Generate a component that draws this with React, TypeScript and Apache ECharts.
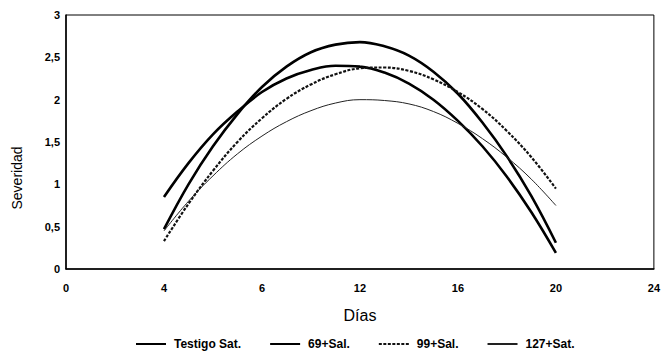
import React, { useEffect, useRef } from "react";
import * as echarts from "echarts";

const days = [4, 5, 6, 7, 8, 9, 10, 11, 12, 13, 14, 15, 16, 17, 18, 19, 20];
const testigoSat = [0.47, 1.0, 1.45, 1.83, 2.15, 2.39, 2.56, 2.65, 2.68, 2.63, 2.52, 2.33, 2.07, 1.73, 1.33, 0.86, 0.31];
const sal69 = [0.85, 1.25, 1.59, 1.86, 2.09, 2.25, 2.35, 2.4, 2.39, 2.32, 2.19, 2.0, 1.75, 1.45, 1.09, 0.67, 0.19];
const sal99 = [0.33, 0.77, 1.16, 1.5, 1.78, 2.01, 2.18, 2.3, 2.37, 2.38, 2.34, 2.24, 2.09, 1.89, 1.63, 1.32, 0.95];
const sat127 = [0.45, 0.8, 1.1, 1.36, 1.57, 1.74, 1.87, 1.96, 2.0, 1.99, 1.95, 1.86, 1.72, 1.54, 1.32, 1.06, 0.75];

const seriesNames = ["Testigo Sat.", "69+Sal.", "99+Sal.", "127+Sat."];
const xTickValues = [0, 4, 8, 12, 16, 20, 24];
const xTickLabels = ["0", "4", "6", "12", "16", "20", "24"];

const FONT = "'Liberation Sans', Arial, sans-serif";

export default function App() {
  const ref = useRef<HTMLDivElement>(null);
  useEffect(() => {
    if (!ref.current) return;
    const chart = echarts.init(ref.current, undefined, { renderer: "svg" });
    const pairs = (vals: number[]) => days.map((d, i) => [d, vals[i]]);
    const styles = [
      { width: 2.6, type: "solid" as any, color: "#000" },
      { width: 2.6, type: "solid" as any, color: "#000" },
      { width: 2.2, type: [3, 1.5] as any, color: "#111" },
      { width: 1, type: "solid" as any, color: "#222" },
    ];
    const allVals = [testigoSat, sal69, sal99, sat127];
    chart.setOption({
      animation: false,
      backgroundColor: "#fff",
      textStyle: { fontFamily: FONT },
      grid: {
        left: 66,
        right: 5,
        top: 15,
        bottom: 82,
        show: true,
        borderColor: "#000",
        borderWidth: 1,
        backgroundColor: "transparent",
      },
      legend: {
        left: 135,
        top: 338,
        padding: 0,
        itemWidth: 30,
        itemHeight: 8,
        itemGap: 28,
        data: seriesNames,
        itemStyle: { opacity: 0 },
        textStyle: {
          fontSize: 12,
          fontWeight: "bold",
          color: "#000",
          fontFamily: FONT,
          lineHeight: 12,
          padding: [0, 0, 0, 3],
        },
      },
      xAxis: {
        type: "value",
        min: 0,
        max: 24,
        interval: 4,
        name: "Días",
        nameLocation: "middle",
        nameGap: 38,
        nameTextStyle: { fontSize: 16, color: "#000", fontFamily: FONT },
        axisLine: { show: true, lineStyle: { color: "#000", width: 1.5 } },
        axisTick: { show: false },
        splitLine: { show: false },
        axisLabel: {
          fontSize: 11,
          fontWeight: "bold",
          color: "#000",
          margin: 13,
          fontFamily: FONT,
          formatter: (v: number) => {
            const idx = xTickValues.indexOf(v);
            return idx >= 0 ? xTickLabels[idx] : "";
          },
        },
      },
      yAxis: {
        type: "value",
        min: 0,
        max: 3,
        interval: 0.5,
        axisLine: { show: true, lineStyle: { color: "#000", width: 1.5 } },
        axisTick: { show: false },
        splitLine: { show: false },
        axisLabel: {
          fontSize: 11,
          fontWeight: "bold",
          color: "#000",
          margin: 6,
          fontFamily: FONT,
          formatter: (v: number) => String(v).replace(".", ","),
        },
      },
      graphic: [
        {
          type: "text",
          x: 10,
          y: 178,
          rotation: Math.PI / 2,
          style: {
            text: "Severidad",
            fontSize: 14,
            fontFamily: FONT,
            fill: "#000",
            textAlign: "center",
            textVerticalAlign: "top",
          },
        },
      ],
      series: seriesNames.map((name, i) => ({
        name,
        type: "line",
        data: pairs(allVals[i]),
        smooth: 0.4,
        symbol: "none",
        lineStyle: styles[i],
        itemStyle: { color: styles[i].color },
      })),
    });
    return () => chart.dispose();
  }, []);
  return (
    <div
      ref={ref}
      style={{ position: "absolute", left: 0, top: 0, width: 663, height: 351 }}
    />
  );
}
